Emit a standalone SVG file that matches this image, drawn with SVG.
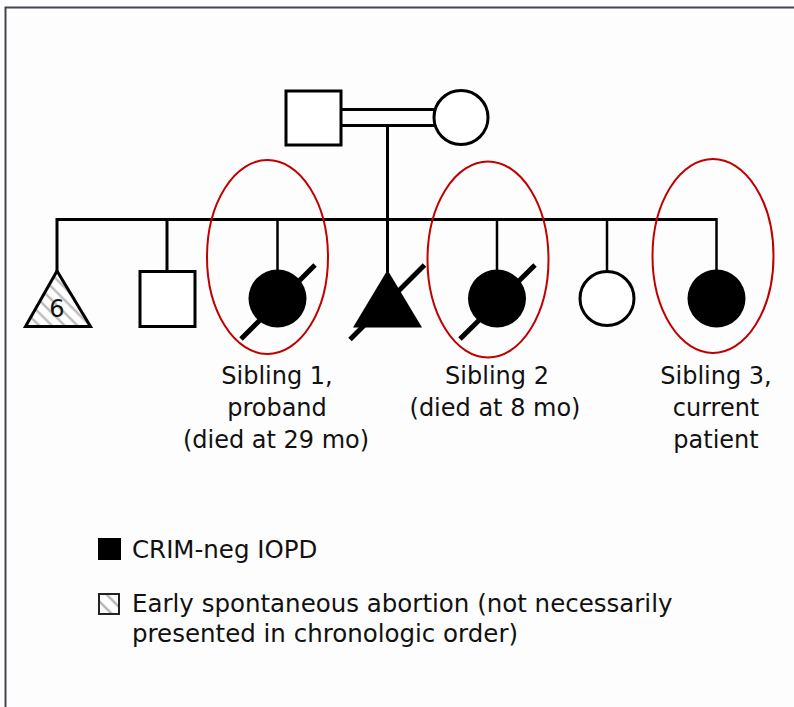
<svg xmlns="http://www.w3.org/2000/svg" width="794" height="707" viewBox="0 0 794 707">
  <defs>
    <pattern id="hatch" patternUnits="userSpaceOnUse" width="9" height="9" patternTransform="rotate(45)">
      <rect width="9" height="9" fill="#ffffff"/>
      <line x1="0" y1="4.5" x2="9" y2="4.5" stroke="#b4b4b4" stroke-width="2.2"/>
    </pattern>
    <pattern id="hatchKey" patternUnits="userSpaceOnUse" width="10" height="10" patternTransform="rotate(45)">
      <rect width="10" height="10" fill="#ffffff"/>
      <line x1="0" y1="5" x2="10" y2="5" stroke="#b4b4b4" stroke-width="2.5"/>
    </pattern>
  </defs>
  <style>
    .frame { fill: none; stroke: #45454f; stroke-width: 2; }
    .line { fill: none; stroke: #000; stroke-width: 3; }
    .thin { fill: none; stroke: #000; stroke-width: 2.5; }
    .open { fill: #fff; stroke: #000; stroke-width: 3; }
    .filled { fill: #000; stroke: none; }
    .dead { stroke: #000; stroke-width: 5; }
    .ring { fill: none; stroke: #c00000; stroke-width: 2; }
    .lbl { font-family: "DejaVu Sans", "Liberation Sans", sans-serif; font-size: 24px; fill: #111; text-anchor: middle; }
    .key { font-family: "DejaVu Sans", "Liberation Sans", sans-serif; font-size: 24.5px; fill: #111; }
  </style>

  <rect width="794" height="707" fill="#fdfdfd"/>
  <path class="frame" d="M5.5 707 V7.5 H794"/>

  <!-- lines of descent -->
  <g id="connectors">
    <line class="line" x1="341" y1="109.5" x2="434" y2="109.5"/>
    <line class="line" x1="341" y1="125.5" x2="434" y2="125.5"/>
    <line class="line" x1="387.5" y1="125.5" x2="387.5" y2="272"/>
    <line class="line" x1="57" y1="219.5" x2="717" y2="219.5"/>
    <line class="line" x1="57" y1="218" x2="57" y2="272"/>
    <line class="line" x1="167" y1="218" x2="167" y2="271"/>
    <line class="thin" x1="277.5" y1="219" x2="277.5" y2="271"/>
    <line class="thin" x1="497" y1="219" x2="497" y2="271"/>
    <line class="thin" x1="607" y1="219" x2="607" y2="271"/>
    <line class="thin" x1="716.5" y1="218" x2="716.5" y2="271"/>
  </g>

  <g id="father"><rect class="open" x="286" y="91" width="55" height="54"/></g>
  <g id="mother"><circle class="open" cx="461" cy="117.5" r="27"/></g>

  <g id="abortions">
    <polygon points="57,271 25.5,326.5 90.5,326.5" fill="url(#hatch)" stroke="#000" stroke-width="3" stroke-linejoin="miter"/>
    <text x="57" y="317" font-family="DejaVu Sans, sans-serif" font-size="24" fill="#111" text-anchor="middle">6</text>
  </g>

  <g id="brother"><rect class="open" x="140" y="271.5" width="55" height="55"/></g>

  <g id="sibling1">
    <circle class="filled" cx="277.5" cy="298.5" r="29"/>
    <line class="dead" x1="241" y1="339" x2="315" y2="265"/>
  </g>

  <g id="stillbirth">
    <polygon class="filled" points="387.5,270 353,327.5 422,327.5"/>
    <line class="dead" x1="350" y1="339.5" x2="424.5" y2="265"/>
  </g>

  <g id="sibling2">
    <circle class="filled" cx="497" cy="298.5" r="29"/>
    <line class="dead" x1="460" y1="339" x2="535" y2="265"/>
  </g>

  <g id="sister"><circle class="open" cx="607" cy="298.5" r="27"/></g>

  <g id="sibling3"><circle class="filled" cx="716.5" cy="298.5" r="29"/></g>

  <g id="highlights">
    <ellipse class="ring" cx="267.5" cy="257" rx="60.5" ry="97"/>
    <ellipse class="ring" cx="488" cy="259.5" rx="60.5" ry="98"/>
    <ellipse class="ring" cx="713" cy="256" rx="60.5" ry="97"/>
  </g>

  <g id="labels">
    <text class="lbl" x="277" y="384">Sibling 1,</text>
    <text class="lbl" x="277" y="416">proband</text>
    <text class="lbl" x="276" y="448">(died at 29 mo)</text>
    <text class="lbl" x="497" y="384">Sibling 2</text>
    <text class="lbl" x="495" y="416">(died at 8 mo)</text>
    <text class="lbl" x="716" y="384">Sibling 3,</text>
    <text class="lbl" x="716" y="416">current</text>
    <text class="lbl" x="716" y="448">patient</text>
  </g>

  <g id="legend">
    <rect x="98" y="538" width="23" height="22" fill="#000"/>
    <text class="key" x="132" y="558">CRIM-neg IOPD</text>
    <rect x="99" y="594" width="20" height="20" fill="url(#hatchKey)" stroke="#222" stroke-width="2"/>
    <text class="key" x="132" y="612">Early spontaneous abortion (not necessarily</text>
    <text class="key" x="132" y="642">presented in chronologic order)</text>
  </g>
</svg>
